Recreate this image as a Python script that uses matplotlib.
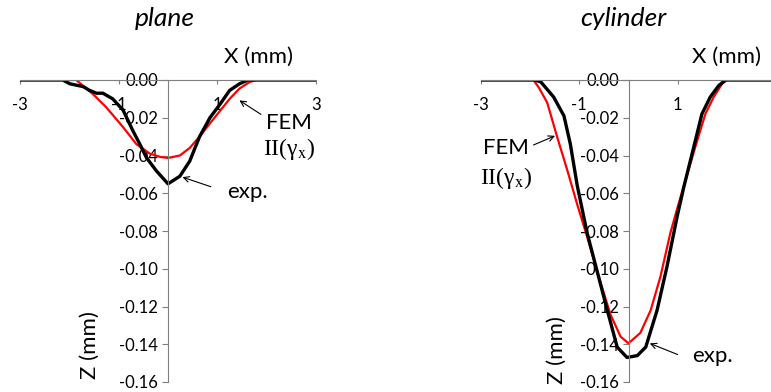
import matplotlib.pyplot as plt

plt.rcParams['font.family'] = ['Lato', 'DejaVu Sans']
plt.rcParams['mathtext.fontset'] = 'stix'
plt.rcParams['axes.unicode_minus'] = False

# plane: FEM II(gamma_x)
x_plane_fem = [-3.0, -1.86, -1.52, -1.25, -0.91, -0.64, -0.37, -0.15, 0.0, 0.24, 0.44, 0.64,
               0.85, 1.05, 1.25, 1.45, 1.66, 1.79, 3.0]
z_plane_fem = [0.0, 0.0, -0.0075, -0.0145, -0.025, -0.034, -0.039, -0.0408, -0.0413, -0.040,
               -0.036, -0.030, -0.023, -0.0165, -0.010, -0.0045, -0.001, 0.0, 0.0]

# plane: experiment
x_plane_exp = [-3.0, -2.13, -1.99, -1.72, -1.59, -1.45, -1.32, -1.12, -0.91, -0.71, -0.57,
               -0.44, -0.24, 0.0, 0.24, 0.44, 0.64, 0.85, 1.05, 1.25, 1.45, 1.62, 3.0]
z_plane_exp = [0.0, 0.0, -0.002, -0.0035, -0.0055, -0.007, -0.007, -0.010, -0.016, -0.027,
               -0.034, -0.041, -0.048, -0.055, -0.051, -0.043, -0.030, -0.020, -0.013,
               -0.0055, -0.002, 0.0, 0.0]

# cylinder: FEM II(gamma_x)
x_cyl_fem = [-3.0, -1.93, -1.82, -1.65, -1.45, -1.24, -1.04, -0.84, -0.63, -0.37, -0.16, 0.0,
             0.24, 0.45, 0.65, 0.85, 0.99, 1.35, 1.56, 1.73, 1.9, 2.0, 3.0]
z_cyl_fem = [0.0, 0.0, -0.004, -0.012, -0.030, -0.048, -0.066, -0.083, -0.102, -0.124,
             -0.136, -0.1395, -0.134, -0.122, -0.104, -0.081, -0.068, -0.036, -0.018, -0.009,
             -0.002, 0.0, 0.0]

# cylinder: experiment
x_cyl_exp = [-3.0, -1.9, -1.78, -1.52, -1.31, -1.18, -1.04, -0.84, -0.63, -0.43, -0.23,
             -0.03, 0.18, 0.35, 0.58, 0.78, 0.99, 1.12, 1.32, 1.49, 1.66, 1.83, 1.97, 3.0]
z_cyl_exp = [0.0, 0.0, -0.001, -0.009, -0.019, -0.034, -0.056, -0.081, -0.102, -0.122,
             -0.1415, -0.147, -0.146, -0.1415, -0.122, -0.099, -0.072, -0.057, -0.036,
             -0.018, -0.009, -0.003, 0.0, 0.0]

x_ticks = [-3, -1, 1, 3]
y_ticks = [0.0, -0.02, -0.04, -0.06, -0.08, -0.10, -0.12, -0.14, -0.16]

W, H = 771, 392
fig = plt.figure(figsize=(W / 100, H / 100), dpi=100)


def px_axes(x0, x1, y_top, y_bot):
    return fig.add_axes([x0 / W, (H - y_bot) / H, (x1 - x0) / W, (y_bot - y_top) / H])


def style(ax, xlabels):
    ax.set_xlim(-3, 3)
    ax.set_ylim(-0.16, 0)
    for s in ['top', 'right']:
        ax.spines[s].set_visible(False)
    ax.spines['left'].set_position(('data', 0))
    ax.spines['bottom'].set_position(('data', 0))
    ax.spines['left'].set_color('#7f7f7f')
    ax.spines['bottom'].set_color('#7f7f7f')
    ax.set_xticks(x_ticks)
    ax.set_xticklabels(xlabels)
    ax.set_yticks(y_ticks)
    ax.set_yticklabels(['%.2f' % v for v in y_ticks])
    ax.tick_params(axis='x', direction='out', length=3, pad=9, labelsize=12, color='#7f7f7f')
    ax.tick_params(axis='y', direction='out', length=4, pad=3, labelsize=12, color='#7f7f7f')


arrow = dict(arrowstyle='->', color='black', lw=0.8)
fem_label = r'II(γ$_{\mathrm{x}}$)'

# left panel: plane
ax1 = px_axes(20, 316, 80, 382)
style(ax1, ['-3', '-1', '1', '3'])
ax1.plot(x_plane_fem, z_plane_fem, color='red', lw=1.6)
ax1.plot(x_plane_exp, z_plane_exp, color='black', lw=2.4)
fig.text(165 / W, 1 - 18 / H, 'plane', fontsize=19, style='italic', ha='center', va='center')
fig.text(258 / W, 1 - 57 / H, 'X (mm)', fontsize=16, ha='center', va='center')
fig.text(90 / W, 1 - 345 / H, 'Z (mm)', fontsize=16, rotation=90, ha='center', va='center')
ax1.annotate('', xy=(1.4, -0.010), xytext=(1.93, -0.019), arrowprops=arrow)
ax1.text(1.98, -0.023, 'FEM', fontsize=16, ha='left', va='center')
ax1.text(1.93, -0.0365, fem_label, fontsize=17, family='Liberation Serif',
         ha='left', va='center')
ax1.annotate('', xy=(0.24, -0.051), xytext=(0.92, -0.057), arrowprops=arrow)
ax1.text(1.19, -0.0595, 'exp.', fontsize=16, ha='left', va='center')

# right panel: cylinder (cut off at the right edge)
ax2 = px_axes(480.7, 776.3, 80, 382)
style(ax2, ['-3', '-1', '1', ''])
ax2.plot(x_cyl_fem, z_cyl_fem, color='red', lw=1.6)
ax2.plot(x_cyl_exp, z_cyl_exp, color='black', lw=2.4)
fig.text(623 / W, 1 - 18 / H, 'cylinder', fontsize=19, style='italic', ha='center', va='center')
fig.text(727 / W, 1 - 57 / H, 'X (mm)', fontsize=16, ha='center', va='center')
fig.text(557 / W, 1 - 350 / H, 'Z (mm)', fontsize=16, rotation=90, ha='center', va='center')
ax2.annotate('', xy=(-1.44, -0.029), xytext=(-1.98, -0.035), arrowprops=arrow)
ax2.text(-2.96, -0.036, 'FEM', fontsize=16, ha='left', va='center')
ax2.text(-3.02, -0.052, fem_label, fontsize=17, family='Liberation Serif',
         ha='left', va='center')
ax2.annotate('', xy=(0.38, -0.139), xytext=(1.05, -0.146), arrowprops=arrow)
ax2.text(1.3, -0.146, 'exp.', fontsize=16, ha='left', va='center')

fig.savefig('out.png', dpi=100)
